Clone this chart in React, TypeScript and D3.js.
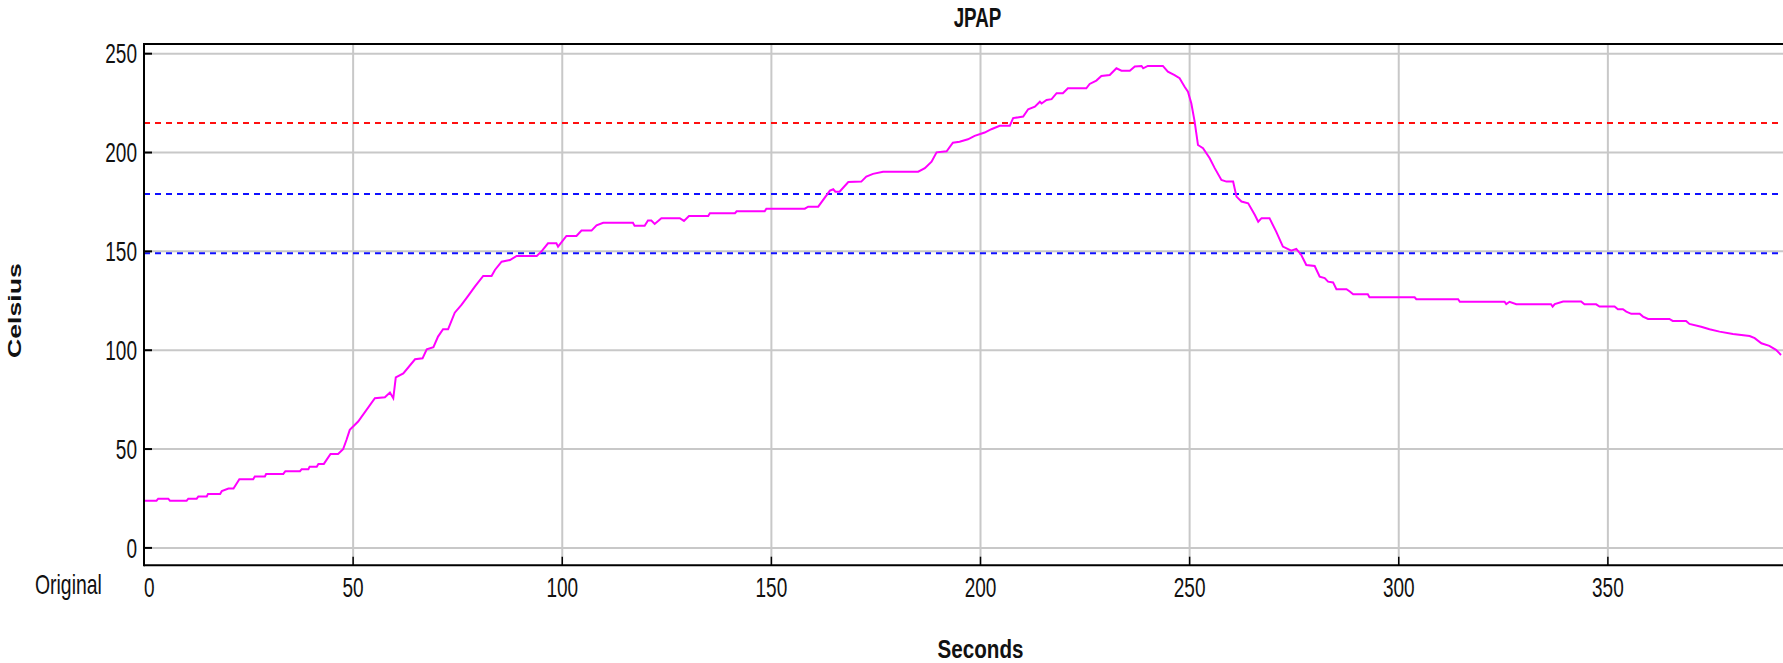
import React from "react";
import * as d3 from "d3";

// ---- data ----
const seconds = [
  0, 3.0, 3.4, 5.8, 6.2, 10.2, 10.6, 12.6, 13.0, 15.0, 15.3, 18.2, 18.6, 20.2, 21.4, 22.8, 26.1, 26.5, 28.9, 29.2,
  33.3, 33.8, 37.3, 37.7, 39.3, 39.6, 41.3, 41.7, 43.0, 44.6, 46.4, 47.6, 48.4, 49.2, 51.2, 55.2, 57.6, 58.8, 59.6, 60.2,
  62.0, 64.8, 66.6, 67.6, 69.2, 70.3, 71.5, 72.7, 74.3, 75.9, 77.5, 79.1, 81.1, 83.1, 83.9, 85.5, 87.5, 89.1, 93.9, 95.0,
  96.6, 98.6, 99.0, 101.0, 103.4, 104.6, 107.0, 108.2, 109.8, 116.9, 117.3, 119.7, 120.5, 121.3, 122.1, 123.7, 128.1, 129.1, 130.3, 134.9,
  135.3, 141.3, 141.7, 148.4, 148.8, 158.0, 158.8, 161.2, 164.0, 164.8, 165.3, 166.3, 168.4, 171.5, 172.7, 174.3, 176.7, 185.1, 186.7, 188.3,
  189.5, 191.9, 193.4, 195.0, 197.0, 198.6, 201.0, 202.6, 204.6, 207.0, 207.8, 210.2, 211.4, 213.0, 214.2, 214.6, 215.8, 217.0, 218.2, 219.7,
  220.9, 225.3, 226.1, 227.7, 228.9, 230.9, 232.5, 233.7, 235.7, 236.9, 238.5, 238.9, 240.0, 243.6, 244.8, 246.4, 247.6, 248.8, 249.6, 250.4,
  251.2, 252.0, 253.2, 254.8, 256.0, 257.6, 258.8, 260.4, 261.2, 262.4, 264.0, 265.6, 266.4, 267.2, 269.1, 270.7, 272.3, 274.3, 275.5, 276.7,
  277.9, 279.9, 281.1, 282.3, 283.1, 284.3, 285.1, 287.5, 288.3, 289.1, 292.6, 293.0, 303.8, 304.2, 314.2, 314.6, 325.3, 325.7, 326.5, 328.1,
  336.4, 336.8, 337.3, 339.3, 343.6, 344.4, 347.2, 348.0, 351.6, 352.4, 353.6, 354.4, 355.6, 357.6, 358.4, 359.6, 364.7, 365.5, 368.7, 369.5,
  372.3, 374.3, 376.7, 379.9, 383.9, 385.1, 386.7, 388.6, 390.2, 391.4,
];
const celsius = [
  23.9, 23.9, 24.9, 24.9, 23.9, 23.9, 24.9, 24.9, 26.0, 26.0, 27.3, 27.3, 28.7, 30.0, 30.0, 34.7, 34.7, 36.1, 36.1, 37.4,
  37.4, 38.8, 38.8, 39.8, 39.8, 41.1, 41.1, 42.5, 42.5, 47.5, 47.5, 49.9, 54.6, 59.7, 63.9, 75.7, 76.2, 78.6, 75.7, 86.3,
  88.3, 95.4, 95.9, 100.5, 101.5, 106.9, 110.6, 110.6, 119.0, 122.9, 127.5, 132.2, 137.6, 137.6, 140.6, 144.8, 145.6, 147.7, 147.7, 149.9,
  154.1, 154.1, 152.4, 157.8, 157.8, 160.5, 160.5, 163.2, 164.5, 164.5, 162.9, 162.9, 165.6, 165.6, 163.9, 166.8, 166.8, 165.4, 167.9, 167.9,
  169.3, 169.3, 170.3, 170.3, 171.6, 171.6, 172.6, 172.6, 180.7, 181.4, 180.2, 180.2, 185.1, 185.3, 187.8, 189.2, 190.3, 190.3, 192.1, 195.4,
  200.1, 200.6, 205.0, 205.5, 206.7, 208.4, 210.1, 211.8, 213.5, 213.5, 217.4, 218.2, 221.9, 223.2, 225.7, 224.8, 226.6, 227.0, 230.0, 230.0,
  232.5, 232.5, 234.7, 236.4, 238.7, 239.2, 242.6, 241.4, 241.4, 243.5, 243.8, 242.6, 243.8, 243.8, 240.9, 239.2, 237.6, 233.3, 230.8, 224.9,
  215.6, 203.8, 202.2, 197.1, 192.1, 186.1, 185.3, 185.3, 177.7, 175.2, 174.3, 168.4, 165.0, 166.8, 166.8, 160.0, 152.4, 150.4, 151.3, 148.2,
  143.1, 142.6, 137.2, 136.5, 134.7, 134.3, 130.9, 130.9, 129.7, 128.3, 128.3, 126.8, 126.8, 125.8, 125.8, 124.5, 124.5, 123.3, 124.5, 123.3,
  123.3, 122.1, 123.3, 124.6, 124.6, 123.2, 123.2, 122.1, 122.1, 120.7, 120.7, 119.5, 118.4, 118.4, 117.0, 115.8, 115.8, 114.8, 114.8, 113.3,
  111.9, 110.6, 109.4, 108.2, 107.2, 106.1, 103.5, 102.2, 100.2, 97.6,
];
const upperLimit = 215;
const lowerLimits = [179, 149];
const xTicks = [0, 50, 100, 150, 200, 250, 300, 350];
const yTicks = [0, 50, 100, 150, 200, 250];
const xDomain = [0, 400];
const yDomain = [-8.75, 254.9];
const titleText = "JPAP";
const xLabel = "Seconds";
const yLabel = "Celsius";
const seriesName = "Original";

// ---- layout ----
const W = 1783;
const H = 663;
const left = 144;
const right = 1817;
const top = 44;
const bottom = 565.2;
const FONT = "'Liberation Sans', Arial, sans-serif";

function SText(props: {
  x: number; y: number; sy: number; size: number; anchor?: string; weight?: string | number; rotate?: boolean; children: React.ReactNode;
}) {
  const { x, y, sy, size, anchor = "start", weight = "normal", rotate = false, children } = props;
  return (
    <text
      transform={`translate(${x},${y}) scale(1,${sy})${rotate ? " rotate(-90)" : ""}`}
      fontSize={size}
      fontFamily={FONT}
      fontWeight={weight as any}
      textAnchor={anchor as any}
      fill="#111"
    >
      {children}
    </text>
  );
}

export default function App() {
  const x = d3.scaleLinear().domain(xDomain).range([left, right]);
  const y = d3.scaleLinear().domain(yDomain).range([bottom, top]);
  const pts = seconds.map((s, i) => [s, celsius[i]] as [number, number]);
  const line = d3
    .line<[number, number]>()
    .x((d) => x(d[0]))
    .y((d) => y(d[1]));

  return (
    <svg
      width={W}
      height={H}
      style={{ position: "absolute", left: 0, top: 0, display: "block", background: "#fff" }}
    >
      <defs>
        <clipPath id="plot">
          <rect x={left} y={top} width={right - left} height={bottom - top} />
        </clipPath>
      </defs>
      <rect x={0} y={0} width={W} height={H} fill="#fff" />

      {/* grid */}
      {xTicks.filter((t) => t !== 0).map((t) => (
        <line key={"gx" + t} x1={x(t)} x2={x(t)} y1={top} y2={bottom} stroke="#c8c8c8" strokeWidth={2} />
      ))}
      {yTicks.map((t) => (
        <line key={"gy" + t} x1={left} x2={right} y1={y(t)} y2={y(t)} stroke="#c8c8c8" strokeWidth={2} />
      ))}

      {/* limit lines */}
      <line x1={left} x2={right} y1={y(upperLimit)} y2={y(upperLimit)} stroke="#ff1010" strokeWidth={2} strokeDasharray="6 5" />
      {lowerLimits.map((v) => (
        <line key={"ll" + v} x1={left} x2={right} y1={y(v)} y2={y(v)} stroke="#1010ff" strokeWidth={2} strokeDasharray="6 5" />
      ))}

      {/* series */}
      <path d={line(pts) || ""} fill="none" stroke="#ff00ff" strokeWidth={2} clipPath="url(#plot)" />

      {/* frame */}
      <line x1={left} x2={right} y1={top} y2={top} stroke="#000" strokeWidth={2} />
      <line x1={left} x2={left} y1={top - 1} y2={bottom + 1} stroke="#000" strokeWidth={2} />
      <line x1={left} x2={right} y1={bottom} y2={bottom} stroke="#000" strokeWidth={2} />
      <line x1={right} x2={right} y1={top} y2={bottom} stroke="#000" strokeWidth={2} />

      {/* ticks */}
      {yTicks.map((t) => (
        <line key={"ty" + t} x1={left} x2={left + 8} y1={y(t)} y2={y(t)} stroke="#000" strokeWidth={2} />
      ))}
      {xTicks.map((t) => (
        <line key={"tx" + t} x1={x(t)} x2={x(t)} y1={bottom} y2={bottom - 8.5} stroke="#000" strokeWidth={1.5} />
      ))}

      {/* tick labels */}
      {yTicks.map((t) => (
        <SText key={"ly" + t} x={137} y={y(t) + 9.7} sy={1.47} size={19} anchor="end">
          {String(t)}
        </SText>
      ))}
      {xTicks.map((t) => (
        <SText key={"lx" + t} x={x(t)} y={597} sy={1.47} size={19} anchor={t === 0 ? "start" : "middle"}>
          {String(t)}
        </SText>
      ))}
      <SText x={35} y={594} sy={1.47} size={19.4} anchor="start">
        {seriesName}
      </SText>

      {/* titles */}
      <SText x={(left + right) / 2 - 3} y={26.7} sy={1.47} size={18.8} anchor="middle" weight="bold">
        {titleText}
      </SText>
      <SText x={(left + right) / 2} y={658} sy={1.27} size={20.6} anchor="middle" weight="bold">
        {xLabel}
      </SText>
      <SText x={21} y={(top + bottom) / 2 + 6} sy={1.4} size={19} anchor="middle" weight="bold" rotate>
        {yLabel}
      </SText>
    </svg>
  );
}
